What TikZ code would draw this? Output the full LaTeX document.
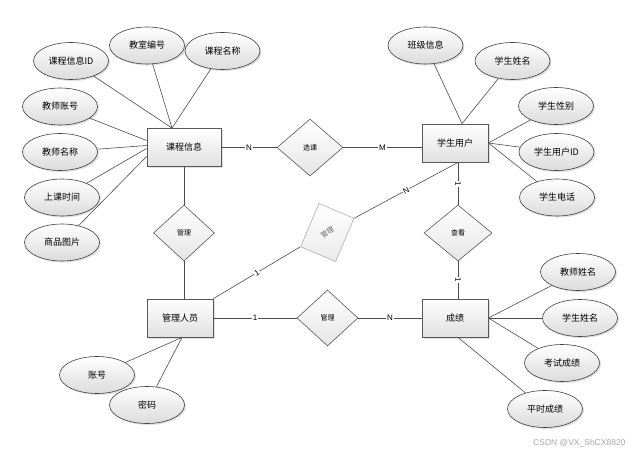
\documentclass[tikz,border=0pt]{standalone}
\usepackage{fontspec}
\setmainfont{Noto Sans CJK SC}
\newfontfamily\latinsans{Liberation Sans}
\usetikzlibrary{shapes.geometric,shadows}
\begin{document}
\begin{tikzpicture}[x=1pt,y=-1pt,
  every node/.style={font=\fontsize{9}{10}\selectfont},
  shd/.style={drop shadow={opacity=0.3,shadow xshift=1.5pt,shadow yshift=-1.5pt,fill=black!40}},
  attr/.style={ellipse,draw=black!75,line width=0.6pt,top color=white,bottom color=black!14,minimum width=75pt,minimum height=37pt,inner sep=0pt,shd},
  ent/.style={rectangle,draw=black!65,line width=0.8pt,top color=white,bottom color=black!12,minimum width=66pt,minimum height=38pt,inner sep=0pt,shd},
  rel/.style={diamond,draw=black!65,line width=0.6pt,top color=white,bottom color=black!10,minimum width=61pt,minimum height=56pt,inner sep=0pt,font=\fontsize{7}{8}\selectfont},
  link/.style={draw=black!70,line width=0.6pt},
  card/.style={fill=white,inner sep=0.8pt,font=\latinsans\fontsize{8}{9}\selectfont},
]
\useasboundingbox (0,0) rectangle (636,454);

% entities
\node[ent,minimum width=74pt] (kc) at (184,147.5) {课程信息};
\node[ent] (xs) at (455,143) {学生用户};
\node[ent] (gly) at (180,318) {管理人员};
\node[ent] (cj) at (455,318) {成绩};

% relations
\node[rel,minimum width=66pt,minimum height=57pt] (xk) at (310,147.5) {选课};
\node[rel] (gl1) at (184,233) {管理};
\node[rel] (gl2) at (327.5,318) {管理};
\node[rel,minimum width=68pt] (ck) at (458,233) {查看};
\node[rectangle,draw=black!35,line width=0.5pt,top color=white,bottom color=black!8,
      minimum width=38pt,minimum height=47pt,inner sep=0pt,rotate=-23,
      text=black!60,font=\fontsize{7}{8}\selectfont] (gl3) at (327.3,232.5) {\rotatebox{55}{管理}};

% attributes of 课程信息
\node[attr] (a1) at (71,61) {课程信息ID};
\node[attr] (a2) at (147,45.5) {教室编号};
\node[attr] (a3) at (222.5,51) {课程名称};
\node[attr] (a4) at (60,106.5) {教师账号};
\node[attr] (a5) at (60,152) {教师名称};
\node[attr] (a6) at (62,197.5) {上课时间};
\node[attr] (a7) at (62,242.5) {商品图片};

% attributes of 学生用户
\node[attr] (b1) at (425.5,45.5) {班级信息};
\node[attr] (b2) at (512.5,61) {学生姓名};
\node[attr] (b3) at (556,106) {学生性别};
\node[attr] (b4) at (556.5,152) {学生用户ID};
\node[attr] (b5) at (557,197.5) {学生电话};

% attributes of 成绩
\node[attr] (c1) at (578,272) {教师姓名};
\node[attr] (c2) at (580,318) {学生姓名};
\node[attr] (c3) at (562,363) {考试成绩};
\node[attr] (c4) at (545,409) {平时成绩};

% attributes of 管理人员
\node[attr] (d1) at (97,375) {账号};
\node[attr] (d2) at (147,405) {密码};

% attribute links
\foreach \n in {a1,a2,a3} \draw[link] (\n) -- ([xshift=-12pt]kc.north);
\draw[link] (a4) -- ([yshift=7pt]kc.west);
\draw[link] (a5) -- ([yshift=2pt]kc.west);
\draw[link] (a6) -- ([yshift=-1pt]kc.west);
\draw[link] (a7) -- ([yshift=-9pt]kc.west);
\foreach \n in {b1,b2} \draw[link] (\n) -- ([xshift=7pt]xs.north);
\foreach \n in {b3,b4,b5} \draw[link] (\n) -- (xs.east);
\foreach \n in {c1,c2,c3} \draw[link] (\n) -- (cj.east);
\draw[link] (c4) -- ([xshift=3pt]cj.south);
\foreach \n in {d1,d2} \draw[link] (\n) -- ([xshift=2pt]gly.south);

% relationship links
\draw[link] (kc.east) -- node[card]{N} (xk.west);
\draw[link] (xk.east) -- node[card]{M} (xk.east -| xs.west);
\draw[link] (kc.south) -- (gl1.north);
\draw[link] (gl1.south) -- (gl1.south |- gly.north);
\draw[link] (gly.east) -- node[card]{1} (gl2.west);
\draw[link] (gl2.east) -- node[card]{N} (cj.west);
\draw[link] (ck.north |- xs.south) -- node[card,sloped]{1} (ck.north);
\draw[link] (ck.south) -- node[card,sloped]{1} (ck.south |- cj.north);
\draw[link] (gly.north east) -- node[card,sloped]{1} (gl3.south west);
\draw[link] (gl3.north east) -- node[card,sloped]{N} ([xshift=3pt]xs.south);

% watermark
\node[text=black!35,font=\latinsans\fontsize{8.5}{9}\selectfont,anchor=east] (wm) at (629,443) {CSDN @VX\_ShCX8820};
\end{tikzpicture}
\end{document}
